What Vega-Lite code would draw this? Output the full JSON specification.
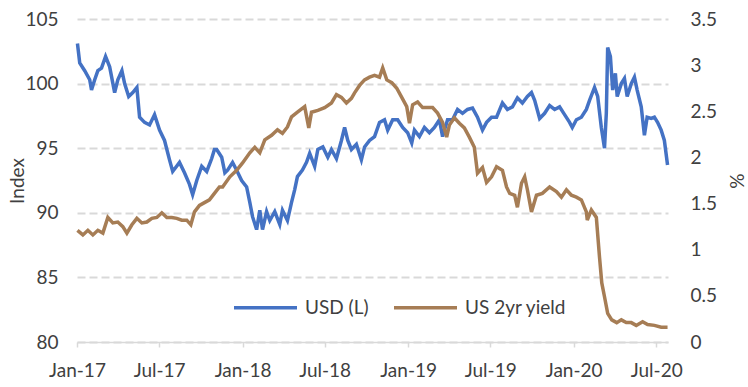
{
  "$schema": "https://vega.github.io/schema/vega-lite/v6.json",
  "autosize": "none",
  "width": 591,
  "height": 323,
  "padding": {"left": 77, "top": 19, "right": 80, "bottom": 45},
  "background": "white",
  "config": {
    "font": "Lato",
    "view": {"stroke": null},
    "axis": {"labelFont": "Lato", "labelFontSize": 19, "labelColor": "#404040", "titleFont": "Lato", "titleFontSize": 19, "titleFontWeight": "normal", "titleColor": "#404040"},
    "legend": {"labelFont": "Lato", "labelFontSize": 19, "labelColor": "#404040"}
  },
  "datasets": {
    "usd": [
      {"d":"2017-01-02","v":103.1},{"d":"2017-01-07","v":101.6},{"d":"2017-01-18","v":101.0},{"d":"2017-01-29","v":100.3},
      {"d":"2017-02-02","v":99.5},{"d":"2017-02-09","v":100.3},{"d":"2017-02-16","v":101.0},{"d":"2017-02-24","v":101.2},
      {"d":"2017-03-05","v":102.1},{"d":"2017-03-14","v":101.3},{"d":"2017-03-25","v":99.3},{"d":"2017-04-01","v":100.3},
      {"d":"2017-04-10","v":101.0},{"d":"2017-04-16","v":100.0},{"d":"2017-04-25","v":99.0},{"d":"2017-05-04","v":99.3},
      {"d":"2017-05-13","v":99.7},{"d":"2017-05-19","v":97.4},{"d":"2017-05-30","v":97.0},{"d":"2017-06-10","v":96.8},
      {"d":"2017-06-21","v":97.6},{"d":"2017-07-02","v":96.4},{"d":"2017-07-13","v":95.6},{"d":"2017-07-24","v":94.1},
      {"d":"2017-07-31","v":93.2},{"d":"2017-08-15","v":93.9},{"d":"2017-08-26","v":93.1},{"d":"2017-09-06","v":92.2},
      {"d":"2017-09-13","v":91.4},{"d":"2017-09-22","v":92.5},{"d":"2017-10-03","v":93.6},{"d":"2017-10-14","v":93.2},
      {"d":"2017-10-25","v":94.2},{"d":"2017-10-31","v":94.9},{"d":"2017-11-05","v":94.9},{"d":"2017-11-16","v":94.3},
      {"d":"2017-11-23","v":93.1},{"d":"2017-11-29","v":93.3},{"d":"2017-12-10","v":93.9},{"d":"2017-12-19","v":93.3},
      {"d":"2017-12-30","v":92.5},{"d":"2018-01-10","v":92.0},{"d":"2018-01-17","v":90.8},{"d":"2018-01-23","v":89.7},
      {"d":"2018-02-01","v":88.7},{"d":"2018-02-08","v":90.2},{"d":"2018-02-14","v":88.7},{"d":"2018-02-23","v":90.1},
      {"d":"2018-03-02","v":89.4},{"d":"2018-03-13","v":90.1},{"d":"2018-03-24","v":89.1},{"d":"2018-03-30","v":90.2},
      {"d":"2018-04-10","v":89.4},{"d":"2018-04-19","v":90.8},{"d":"2018-04-26","v":91.8},{"d":"2018-05-02","v":92.8},
      {"d":"2018-05-13","v":93.3},{"d":"2018-05-22","v":93.9},{"d":"2018-05-29","v":94.6},{"d":"2018-06-09","v":93.6},
      {"d":"2018-06-16","v":94.9},{"d":"2018-06-27","v":95.1},{"d":"2018-07-08","v":94.3},{"d":"2018-07-16","v":94.9},
      {"d":"2018-07-27","v":94.2},{"d":"2018-08-07","v":95.6},{"d":"2018-08-14","v":96.6},{"d":"2018-08-21","v":95.6},
      {"d":"2018-08-29","v":94.9},{"d":"2018-09-09","v":95.3},{"d":"2018-09-20","v":94.1},{"d":"2018-09-27","v":95.1},
      {"d":"2018-10-08","v":95.6},{"d":"2018-10-19","v":95.9},{"d":"2018-10-30","v":97.0},{"d":"2018-11-10","v":97.2},
      {"d":"2018-11-17","v":96.4},{"d":"2018-11-28","v":97.2},{"d":"2018-12-09","v":97.2},{"d":"2018-12-20","v":96.6},
      {"d":"2018-12-31","v":96.2},{"d":"2019-01-09","v":95.4},{"d":"2019-01-15","v":96.4},{"d":"2019-01-26","v":95.9},
      {"d":"2019-02-06","v":96.6},{"d":"2019-02-17","v":96.2},{"d":"2019-02-28","v":96.6},{"d":"2019-03-11","v":97.2},
      {"d":"2019-03-18","v":95.9},{"d":"2019-03-29","v":97.2},{"d":"2019-04-09","v":97.2},{"d":"2019-04-20","v":98.0},
      {"d":"2019-05-01","v":97.7},{"d":"2019-05-12","v":98.0},{"d":"2019-05-23","v":98.1},{"d":"2019-06-03","v":97.4},
      {"d":"2019-06-14","v":96.4},{"d":"2019-06-23","v":97.0},{"d":"2019-07-04","v":97.4},{"d":"2019-07-15","v":97.4},
      {"d":"2019-07-28","v":98.5},{"d":"2019-08-08","v":98.0},{"d":"2019-08-19","v":98.2},{"d":"2019-08-30","v":98.9},
      {"d":"2019-09-10","v":98.5},{"d":"2019-09-21","v":99.0},{"d":"2019-09-30","v":99.3},{"d":"2019-10-07","v":98.7},
      {"d":"2019-10-18","v":97.3},{"d":"2019-10-29","v":97.7},{"d":"2019-11-09","v":98.3},{"d":"2019-11-20","v":98.0},
      {"d":"2019-12-01","v":98.2},{"d":"2019-12-12","v":97.6},{"d":"2019-12-23","v":97.0},{"d":"2019-12-29","v":96.6},
      {"d":"2020-01-07","v":97.2},{"d":"2020-01-18","v":97.4},{"d":"2020-01-29","v":98.0},{"d":"2020-02-05","v":98.7},
      {"d":"2020-02-16","v":99.7},{"d":"2020-02-23","v":99.0},{"d":"2020-03-02","v":96.6},{"d":"2020-03-09","v":95.0},
      {"d":"2020-03-13","v":97.7},{"d":"2020-03-16","v":102.8},{"d":"2020-03-22","v":102.1},{"d":"2020-03-27","v":99.5},
      {"d":"2020-04-02","v":100.8},{"d":"2020-04-06","v":99.0},{"d":"2020-04-15","v":100.0},{"d":"2020-04-22","v":100.4},
      {"d":"2020-04-28","v":99.0},{"d":"2020-05-07","v":100.0},{"d":"2020-05-14","v":100.5},{"d":"2020-05-20","v":99.5},
      {"d":"2020-05-29","v":98.2},{"d":"2020-06-05","v":96.0},{"d":"2020-06-11","v":97.4},{"d":"2020-06-20","v":97.3},
      {"d":"2020-06-27","v":97.4},{"d":"2020-07-04","v":97.0},{"d":"2020-07-12","v":96.4},{"d":"2020-07-19","v":95.6},
      {"d":"2020-07-26","v":93.7}
    ],
    "yld": [
      {"d":"2017-01-02","v":1.21},{"d":"2017-01-14","v":1.16},{"d":"2017-01-25","v":1.21},{"d":"2017-02-05","v":1.16},
      {"d":"2017-02-16","v":1.21},{"d":"2017-02-27","v":1.18},{"d":"2017-03-10","v":1.35},{"d":"2017-03-21","v":1.29},
      {"d":"2017-04-01","v":1.30},{"d":"2017-04-12","v":1.25},{"d":"2017-04-21","v":1.18},{"d":"2017-05-02","v":1.27},
      {"d":"2017-05-13","v":1.34},{"d":"2017-05-24","v":1.29},{"d":"2017-06-04","v":1.30},{"d":"2017-06-15","v":1.34},
      {"d":"2017-06-26","v":1.35},{"d":"2017-07-07","v":1.40},{"d":"2017-07-18","v":1.35},{"d":"2017-07-29","v":1.35},
      {"d":"2017-08-09","v":1.34},{"d":"2017-08-20","v":1.32},{"d":"2017-08-31","v":1.32},{"d":"2017-09-09","v":1.27},
      {"d":"2017-09-17","v":1.41},{"d":"2017-09-28","v":1.48},{"d":"2017-10-09","v":1.51},{"d":"2017-10-20","v":1.54},
      {"d":"2017-10-31","v":1.61},{"d":"2017-11-11","v":1.68},{"d":"2017-11-18","v":1.68},{"d":"2017-12-04","v":1.79},
      {"d":"2017-12-19","v":1.86},{"d":"2018-01-01","v":1.94},{"d":"2018-01-17","v":2.05},{"d":"2018-01-28","v":2.11},
      {"d":"2018-02-08","v":2.05},{"d":"2018-02-19","v":2.19},{"d":"2018-03-06","v":2.24},{"d":"2018-03-19","v":2.30},
      {"d":"2018-03-30","v":2.26},{"d":"2018-04-10","v":2.33},{"d":"2018-04-19","v":2.44},{"d":"2018-05-02","v":2.49},
      {"d":"2018-05-18","v":2.55},{"d":"2018-05-27","v":2.32},{"d":"2018-06-02","v":2.49},{"d":"2018-06-16","v":2.51},
      {"d":"2018-07-01","v":2.54},{"d":"2018-07-16","v":2.59},{"d":"2018-07-27","v":2.68},{"d":"2018-08-07","v":2.65},
      {"d":"2018-08-18","v":2.59},{"d":"2018-08-29","v":2.64},{"d":"2018-09-05","v":2.70},{"d":"2018-09-16","v":2.78},
      {"d":"2018-09-27","v":2.84},{"d":"2018-10-08","v":2.87},{"d":"2018-10-19","v":2.89},{"d":"2018-10-30","v":2.87},
      {"d":"2018-11-06","v":2.97},{"d":"2018-11-15","v":2.84},{"d":"2018-11-26","v":2.81},{"d":"2018-12-07","v":2.75},
      {"d":"2018-12-18","v":2.65},{"d":"2018-12-29","v":2.55},{"d":"2019-01-04","v":2.37},{"d":"2019-01-11","v":2.57},
      {"d":"2019-01-22","v":2.60},{"d":"2019-02-02","v":2.54},{"d":"2019-02-13","v":2.54},{"d":"2019-02-24","v":2.54},
      {"d":"2019-03-07","v":2.48},{"d":"2019-03-18","v":2.38},{"d":"2019-03-27","v":2.22},{"d":"2019-04-02","v":2.35},
      {"d":"2019-04-13","v":2.43},{"d":"2019-04-24","v":2.37},{"d":"2019-05-05","v":2.32},{"d":"2019-05-16","v":2.22},
      {"d":"2019-05-27","v":2.11},{"d":"2019-06-03","v":1.83},{"d":"2019-06-14","v":1.89},{"d":"2019-06-23","v":1.73},
      {"d":"2019-07-04","v":1.79},{"d":"2019-07-15","v":1.90},{"d":"2019-07-28","v":1.86},{"d":"2019-08-06","v":1.68},
      {"d":"2019-08-13","v":1.61},{"d":"2019-08-24","v":1.59},{"d":"2019-08-30","v":1.46},{"d":"2019-09-08","v":1.72},
      {"d":"2019-09-15","v":1.79},{"d":"2019-09-21","v":1.65},{"d":"2019-09-30","v":1.41},{"d":"2019-10-11","v":1.59},
      {"d":"2019-10-24","v":1.61},{"d":"2019-11-09","v":1.68},{"d":"2019-11-24","v":1.63},{"d":"2019-12-05","v":1.57},
      {"d":"2019-12-16","v":1.65},{"d":"2019-12-27","v":1.59},{"d":"2020-01-07","v":1.57},{"d":"2020-01-18","v":1.54},
      {"d":"2020-01-29","v":1.41},{"d":"2020-01-31","v":1.32},{"d":"2020-02-09","v":1.43},{"d":"2020-02-20","v":1.35},
      {"d":"2020-02-27","v":0.92},{"d":"2020-03-03","v":0.64},{"d":"2020-03-09","v":0.49},{"d":"2020-03-16","v":0.31},
      {"d":"2020-03-25","v":0.24},{"d":"2020-04-05","v":0.21},{"d":"2020-04-15","v":0.24},{"d":"2020-04-26","v":0.21},
      {"d":"2020-05-07","v":0.21},{"d":"2020-05-18","v":0.18},{"d":"2020-06-01","v":0.22},{"d":"2020-06-12","v":0.19},
      {"d":"2020-06-27","v":0.18},{"d":"2020-07-12","v":0.16},{"d":"2020-07-26","v":0.16}
    ]
  },
  "encoding": {
    "x": {
      "field": "d", "type": "temporal", "title": null,
      "scale": {"domain": [{"year": 2017, "month": 1, "date": 1}, {"year": 2020, "month": 7, "date": 27}]},
      "axis": {"format": "%b-%y", "tickCount": {"interval": "month", "step": 6}, "grid": false, "domainColor": "#d9d9d9", "domainWidth": 1.5, "tickColor": "#d9d9d9", "tickWidth": 1.5, "tickSize": 5, "labelPadding": 14, "labelFlush": false, "labelOverlap": false}
    },
    "color": {
      "field": "s", "type": "nominal",
      "scale": {"domain": ["USD (L)", "US 2yr yield"], "range": ["#4472C4", "#A67D55"]},
      "legend": {"title": null, "orient": "none", "legendX": 155, "legendY": 255, "direction": "horizontal", "symbolType": "stroke", "symbolSize": 3969, "symbolStrokeWidth": 3.5, "labelOffset": 6, "columnPadding": 18, "padding": 0}
    }
  },
  "layer": [
    {
      "data": {"name": "usd"},
      "transform": [{"calculate": "'USD (L)'", "as": "s"}],
      "mark": {"type": "line", "strokeWidth": 3.5, "interpolate": "linear"},
      "encoding": {
        "y": {
          "field": "v", "type": "quantitative", "title": "Index",
          "scale": {"domain": [80, 105], "nice": false, "zero": false},
          "axis": {"values": [80, 85, 90, 95, 100, 105], "grid": true, "gridColor": "#d9d9d9", "gridDash": [8, 4], "gridWidth": 2, "domain": false, "ticks": false, "tickSize": 0, "labelPadding": 19, "titlePadding": -3}
        }
      }
    },
    {
      "data": {"name": "yld"},
      "transform": [{"calculate": "'US 2yr yield'", "as": "s"}],
      "mark": {"type": "line", "strokeWidth": 3.5, "interpolate": "linear"},
      "encoding": {
        "y": {
          "field": "v", "type": "quantitative", "title": "%",
          "scale": {"domain": [0, 3.5], "nice": false},
          "axis": {"orient": "right", "values": [0, 0.5, 1, 1.5, 2, 2.5, 3, 3.5], "format": "~g", "grid": false, "domain": false, "ticks": false, "tickSize": 0, "labelPadding": 22, "titlePadding": 9}
        }
      }
    }
  ],
  "resolve": {"scale": {"y": "independent"}}
}
